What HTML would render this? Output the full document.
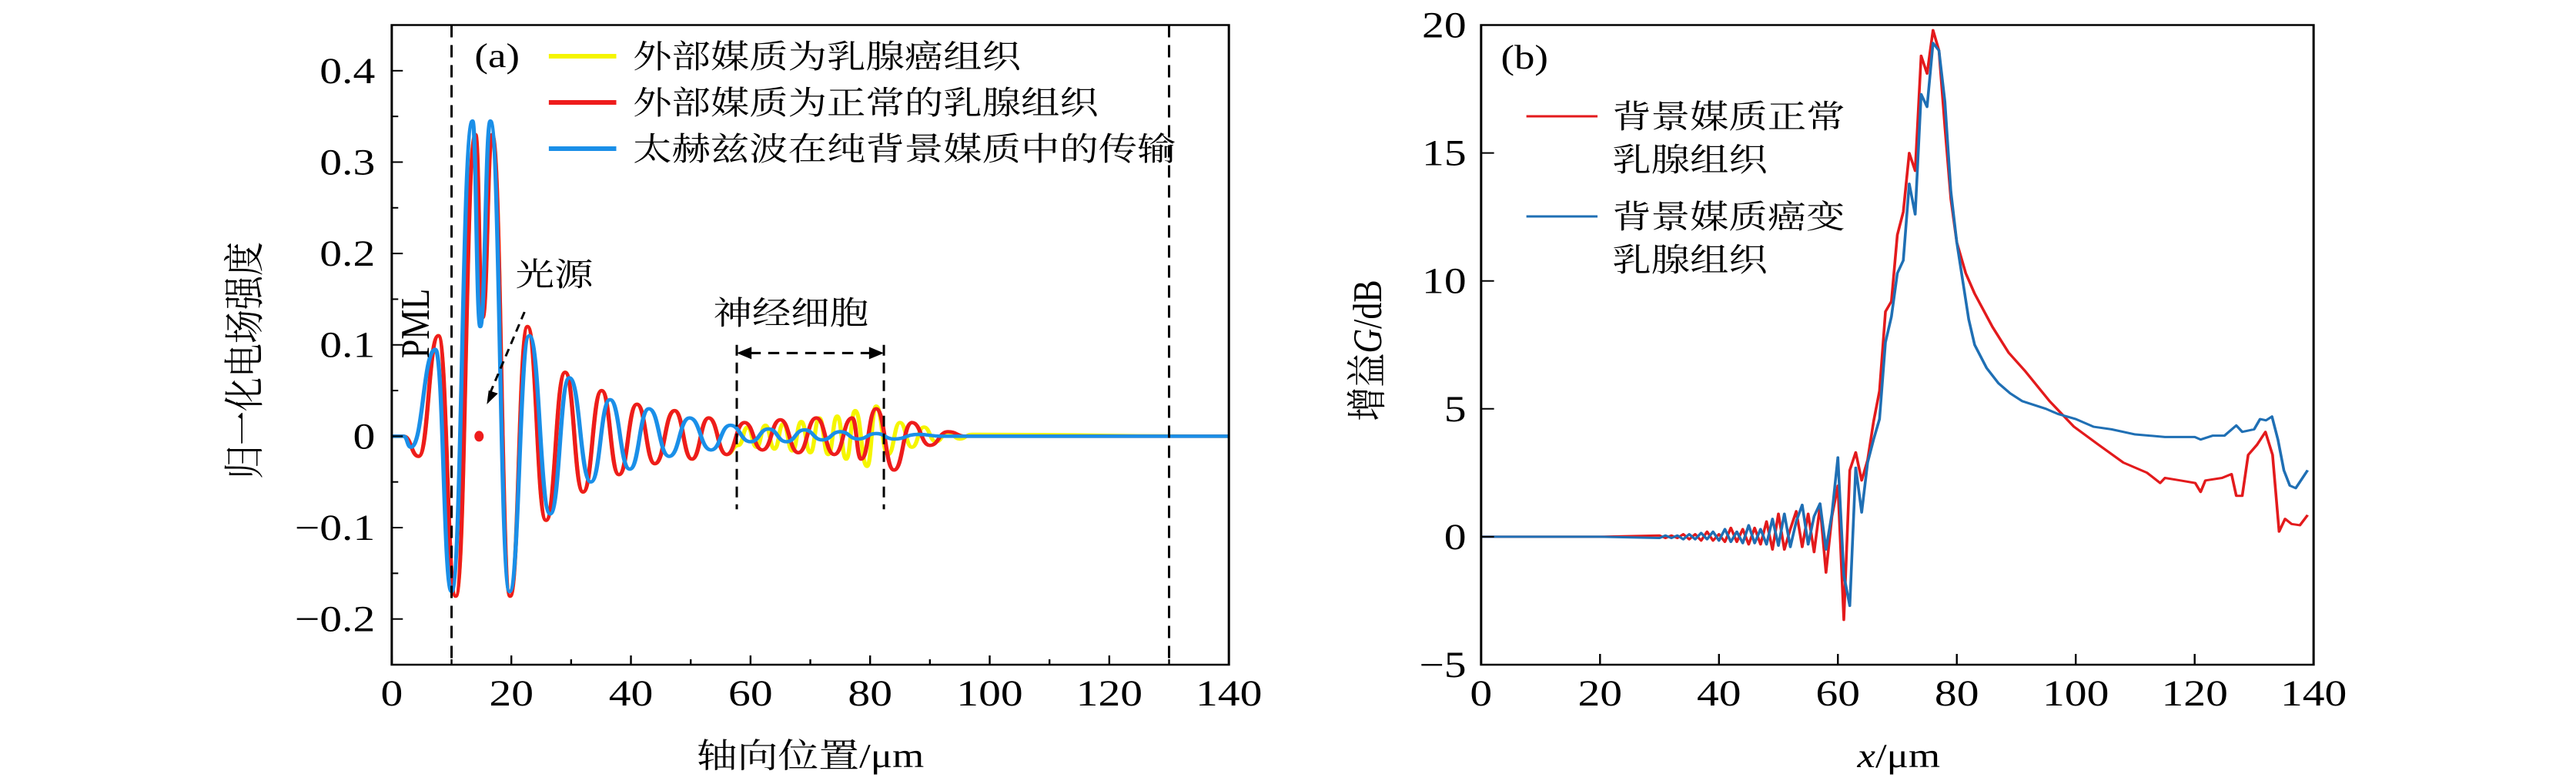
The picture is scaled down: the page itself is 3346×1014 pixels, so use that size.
<!DOCTYPE html>
<html><head><meta charset="utf-8"><style>
html,body{margin:0;padding:0;background:#fff;}
svg{display:block;}
text{font-family:"Liberation Serif","Noto Serif CJK SC","Noto Sans CJK SC",serif;fill:#000;}
</style></head><body>
<svg id="fig" width="3346" height="1014" viewBox="0 0 2788 1014" preserveAspectRatio="none" xmlns="http://www.w3.org/2000/svg">
<g id="pa"></g>
<g id="pb"></g>
</svg>
<script>
// ---------- Panel (a) data (extrema of the waves) ----------
const aYellowX=[0,2,4.5,7.8,10.7,14,15.2,16.8,19.8,22.7,25.8,29,32,35.1,38,41,44,47.3,50.2,53,56,58,59.5,61,62.5,64,65.5,67,68.5,70,71.5,73,74.5,76,77.5,79.5,81,83,85,87,89,91,93,95,97,140];
const aYellowY=[0,0,-0.022,0.11,-0.175,0.33,0.13,0.33,-0.175,0.12,-0.092,0.07,-0.061,0.05,-0.042,0.035,-0.03,0.028,-0.025,0.02,-0.02,-0.01,0.01,-0.012,0.012,-0.014,0.014,-0.016,0.016,-0.018,0.02,-0.02,0.022,-0.025,0.028,-0.033,0.033,-0.02,0.015,-0.012,0.01,-0.006,0.004,-0.003,0.002,0];
const aRedX=[0,2,4.5,7.8,10.7,14,15.2,16.8,19.8,22.7,25.8,29,32,35.1,38,41,44,47.3,50.2,53,56,59,62,65,68,71,74,77,78.5,81,84,87,90,93,96,140];
const aRedY=[0,0,-0.022,0.11,-0.175,0.33,0.13,0.33,-0.175,0.12,-0.092,0.07,-0.061,0.05,-0.042,0.035,-0.03,0.028,-0.025,0.02,-0.02,0.015,-0.015,0.018,-0.018,0.02,-0.02,0.02,-0.025,0.03,-0.037,0.015,-0.01,0.005,0,0];
const aBlueX=[0,2,3.2,7.3,10,13.5,14.8,16.5,19.7,23,26.5,29.7,33.3,36.5,39.8,43,46.4,49.8,53.4,56.6,60,63,66,69,72,75,78,81,84,88,92,140];
const aBlueY=[0,0,-0.012,0.095,-0.17,0.345,0.12,0.345,-0.17,0.11,-0.085,0.064,-0.05,0.04,-0.036,0.03,-0.022,0.02,-0.015,0.012,-0.006,0.008,-0.006,0.007,-0.004,0.005,-0.003,0.003,-0.003,0.002,0,0];
const aXTicks=[0,20,40,60,80,100,120,140];
const aYTicks=[0.4,0.3,0.2,0.1,0,-0.1,-0.2];
const aYLabels=["0.4","0.3","0.2","0.1","0","−0.1","−0.2"];
const aLegend=["外部媒质为乳腺癌组织","外部媒质为正常的乳腺组织","太赫兹波在纯背景媒质中的传输"];

// ---------- Panel (b) data ----------
const bRedX=[0,20,30,31,32,33,34,35,36,37,38,39,40,41,42,43,44,45,46,47,48,49,50,51,52,53,54,55,56,57,58,59,60,61,62,63,64,65,66,67,68,69,70,71,72,73,74,75,76,77,78,79,80,81.5,83,86,88.7,91.4,95.6,99.7,103.8,108,112,114.2,115,117.6,120.1,121,121.8,124.6,126.2,127,128,129,130.5,131.9,133.1,134.2,135.2,136.3,137.7,139];
const bRedY=[0,0,0.05,-0.05,0.05,-0.05,0.1,-0.1,0.1,-0.15,0.2,-0.15,0.1,-0.2,0.35,-0.2,0.3,-0.3,0.35,-0.3,0.6,-0.5,0.9,-0.5,0.3,1.0,-0.4,0.9,-0.6,1.2,-1.4,0.8,2.0,-3.25,2.6,3.3,2.2,3.0,4.5,5.7,8.8,9.2,11.8,12.7,15.0,14.3,18.8,18.1,19.8,19.0,16.0,13.2,11.5,10.3,9.5,8.2,7.2,6.5,5.3,4.3,3.6,2.9,2.5,2.1,2.3,2.2,2.1,1.75,2.2,2.3,2.45,1.6,1.6,3.2,3.6,4.1,3.2,0.2,0.7,0.5,0.45,0.85];
const bBlueX=[0,20,30,31,32,33,34,35,36,37,38,39,40,41,42,43,44,45,46,47,48,49,50,51,52,53,54,55,56,57,58,59,60,61,62,63,64,65,66,67,68,69,70,71,72,73,74,75,76,77,78,79,80,81,82,83,85,87,89,91,95,97,100,103,106,110,115,120,121,123,125,127,128,130,131,132,133,134,135,136,137,139];
const bBlueY=[0,0,-0.05,0.05,-0.05,0.05,-0.1,0.1,-0.1,0.15,-0.1,0.2,-0.15,0.3,-0.2,0.2,-0.25,0.45,-0.25,0.3,-0.3,0.7,-0.35,0.9,-0.4,0.6,1.25,-0.3,0.8,1.3,-0.5,0.9,3.1,-1.5,-2.7,2.7,0.95,2.9,3.8,4.6,7.6,8.6,10.3,10.8,13.8,12.6,17.3,16.8,19.3,19.0,17.0,13.5,11.5,10.0,8.5,7.5,6.6,6.0,5.6,5.3,5.0,4.8,4.6,4.3,4.2,4.0,3.9,3.9,3.8,3.95,3.95,4.35,4.1,4.2,4.6,4.55,4.7,3.8,2.6,2.0,1.9,2.6];
const bXTicks=[0,20,40,60,80,100,120,140];
const bYTicks=[20,15,10,5,0,-5];
const bYLabels=["20","15","10","5","0","−5"];

const NS="http://www.w3.org/2000/svg";
function mk(parent,tag,attrs,txt){const e=document.createElementNS(NS,tag);for(const k in attrs)e.setAttribute(k,attrs[k]);if(txt!==undefined)e.textContent=txt;parent.appendChild(e);return e;}

// ===== Panel a =====
const pa=document.getElementById('pa');
const aL=424,aR=1330,aT=32.5,aB=863;
const ax=v=>aL+(v-0)/(140-0)*(aR-aL);
const ay=v=>aB-(v+0.25)/(0.45+0.25)*(aB-aT);
function wavePath(xs,ys,fx,fy){let d="M"+fx(xs[0])+","+fy(ys[0]);for(let i=1;i<xs.length;i++){const x0=fx(xs[i-1]),x1=fx(xs[i]),y0=fy(ys[i-1]),y1=fy(ys[i]);const h=(x1-x0)/2;d+=` C${x0+h},${y0} ${x1-h},${y1} ${x1},${y1}`;}return d;}
let e;
e=mk(pa,'path',{d:wavePath(aYellowX,aYellowY,ax,ay),fill:'none',stroke:'#f5f500','stroke-width':4.5,'stroke-linejoin':'round'});


e=mk(pa,'path',{d:wavePath(aRedX,aRedY,ax,ay),fill:'none',stroke:'#ee1c1c','stroke-width':4.5,'stroke-linejoin':'round'});


e=mk(pa,'path',{d:wavePath(aBlueX,aBlueY,ax,ay),fill:'none',stroke:'#1a8fe8','stroke-width':4.5,'stroke-linejoin':'round'});


e=mk(pa,'ellipse',{cx:ax(14.6),cy:ay(0),rx:5,ry:7,fill:'#ee1c1c'});


[10,130].forEach(v=>{const l=mk(pa,'line',{x1:ax(v),x2:ax(v),y1:aT,y2:aB,stroke:'#000','stroke-width':2.5,'stroke-dasharray':'16 10'});

});
e=mk(pa,'rect',{x:aL,y:aT,width:aR-aL,height:aB-aT,fill:'none',stroke:'#000','stroke-width':2.5});


for(let v=0;v<=140;v+=10){const major=v%20===0;mk(pa,'line',{x1:ax(v),x2:ax(v),y1:aB,y2:aB-(major?12:7),stroke:'#000','stroke-width':2});}
aXTicks.forEach(v=>{const t=mk(pa,'text',{x:ax(v),y:aB+53,'font-size':48,'text-anchor':'middle'},String(v));

});
for(let v=-0.25;v<=0.45001;v+=0.05){const major=Math.abs(Math.round(v*10)-v*10)<1e-6;mk(pa,'line',{x1:aL,x2:aL+(major?12:7),y1:ay(v),y2:ay(v),stroke:'#000','stroke-width':2});}
aYTicks.forEach((v,i)=>{const t=mk(pa,'text',{x:aL-18,y:ay(v)+16,'font-size':48,'text-anchor':'end'},aYLabels[i]);

});
e=mk(pa,'text',{x:877,y:996,'font-size':44,'text-anchor':'middle'},'轴向位置/μm');


e=mk(pa,'text',{x:0,y:0,'font-size':44,'text-anchor':'middle',transform:'translate(280,468) rotate(-90)'},'归一化电场强度');


e=mk(pa,'text',{x:538,y:87,'font-size':44,'text-anchor':'middle'},'(a)');


const legCol=['#f5f500','#ee1c1c','#1a8fe8'];
aLegend.forEach((s,i)=>{const yy=73+i*60;
const l=mk(pa,'line',{x1:594,x2:667,y1:yy,y2:yy,stroke:legCol[i],'stroke-width':6});


const t=mk(pa,'text',{x:685,y:yy+15,'font-size':42},s);

});
e=mk(pa,'text',{x:0,y:0,'font-size':44,'text-anchor':'middle',transform:`translate(${ax(6.2)},420) rotate(-90)`},'PML');


e=mk(pa,'text',{x:600,y:371,'font-size':42,'text-anchor':'middle'},'光源');


e=mk(pa,'line',{x1:ax(22.2),y1:ay(0.136),x2:ax(16.3),y2:ay(0.045),stroke:'#000','stroke-width':2.5,'stroke-dasharray':'10 7'});


mk(pa,'polygon',{points:`${ax(15.9)},${ay(0.035)} ${ax(15.9)+12},${ay(0.035)-14} ${ax(15.9)+2},${ay(0.035)-18}`,fill:'#000'});
e=mk(pa,'text',{x:856,y:421,'font-size':42,'text-anchor':'middle'},'神经细胞');


const c1=ax(57.7),c2=ax(82.3),cy=ay(0.091);
e=mk(pa,'line',{x1:c1+14,x2:c2-14,y1:cy,y2:cy,stroke:'#000','stroke-width':3,'stroke-dasharray':'12 8'});


mk(pa,'polygon',{points:`${c1},${cy} ${c1+16},${cy-8} ${c1+16},${cy+8}`,fill:'#000'});
mk(pa,'polygon',{points:`${c2},${cy} ${c2-16},${cy-8} ${c2-16},${cy+8}`,fill:'#000'});
[c1,c2].forEach(x=>{const l=mk(pa,'line',{x1:x,x2:x,y1:ay(0.1),y2:ay(-0.08),stroke:'#000','stroke-width':2.5,'stroke-dasharray':'14 9'});

});

// ===== Panel b =====
const pb=document.getElementById('pb');
const bL=1603,bR=2504,bT=32.5,bB=863;
const bx=v=>bL+v/140*(bR-bL);
const by=v=>bB-(v+5)/25*(bB-bT);
function linePath(xs,ys){return xs.map((x,i)=>(i?'L':'M')+bx(x)+','+by(ys[i])).join(' ');}
e=mk(pb,'path',{d:linePath(bRedX,bRedY),fill:'none',stroke:'#e31a1c','stroke-width':3,'stroke-linejoin':'round'});


e=mk(pb,'path',{d:linePath(bBlueX,bBlueY),fill:'none',stroke:'#1f6fb4','stroke-width':3,'stroke-linejoin':'round'});


e=mk(pb,'rect',{x:bL,y:bT,width:bR-bL,height:bB-bT,fill:'none',stroke:'#000','stroke-width':2.5});


bXTicks.forEach(v=>{mk(pb,'line',{x1:bx(v),x2:bx(v),y1:bB,y2:bB-14,stroke:'#000','stroke-width':2});
const t=mk(pb,'text',{x:bx(v),y:bB+53,'font-size':48,'text-anchor':'middle'},String(v));

});
bYTicks.forEach((v,i)=>{mk(pb,'line',{x1:bL,x2:bL+14,y1:by(v),y2:by(v),stroke:'#000','stroke-width':2});
const t=mk(pb,'text',{x:bL-16,y:by(v)+16,'font-size':48,'text-anchor':'end'},bYLabels[i]);

});
e=mk(pb,'text',{x:2055,y:996,'font-size':44,'text-anchor':'middle'});


mk(e,'tspan',{'font-style':'italic'},'x');mk(e,'tspan',{},'/μm');
e=mk(pb,'text',{x:0,y:0,'font-size':44,'text-anchor':'middle',transform:'translate(1495,455) rotate(-90)'});


mk(e,'tspan',{},'增益');mk(e,'tspan',{'font-style':'italic'},'G');mk(e,'tspan',{},'/dB');
e=mk(pb,'text',{x:1650,y:89,'font-size':44,'text-anchor':'middle'},'(b)');


const bLeg=[['背景媒质正常','乳腺组织','#e31a1c',151],['背景媒质癌变','乳腺组织','#1f6fb4',281]];
bLeg.forEach(r=>{const l=mk(pb,'line',{x1:1652,x2:1729,y1:r[3],y2:r[3],stroke:r[2],'stroke-width':3});


const t=mk(pb,'text',{x:1745,y:r[3]+15,'font-size':42},r[0]);


const t2=mk(pb,'text',{x:1745,y:r[3]+71,'font-size':42},r[1]);

});
</script>
</body></html>
